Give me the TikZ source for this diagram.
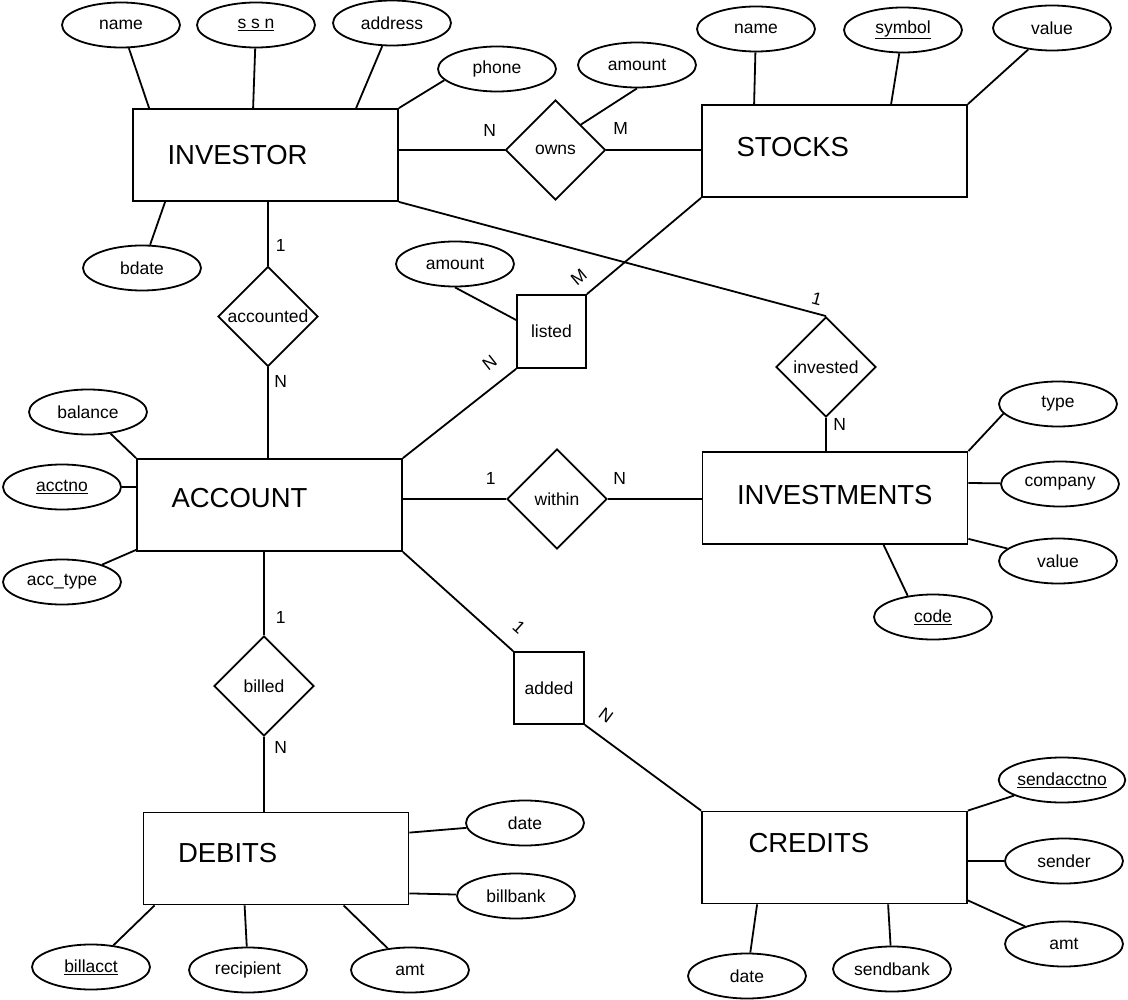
\documentclass[tikz,border=0pt]{standalone}
\usepackage{fontspec}
\setmainfont{Liberation Sans}
\usetikzlibrary{shapes.geometric}

\newcommand{\attrfont}{\fontsize{17.5}{20}\selectfont}
\newcommand{\entfont}{\fontsize{27.5}{32}\selectfont}
\newcommand{\liftby}[2]{\raisebox{#1}[\height][\depth]{#2}}

\begin{document}
\begin{tikzpicture}[x=1pt,y=-1pt,line width=1.8pt]
	\useasboundingbox (0,0) rectangle (1128,1000);

	% entities
	\begin{scope}[every node/.style={draw,rectangle,minimum height=92pt,text width=196pt,inner xsep=34.5pt,align=left,font=\entfont}]
		\node (inv) at (265.5,155) {INVESTOR};
		\node (stk) at (834.5,151) {\liftby{4pt}{STOCKS}};
		\node (acc) at (269.5,505) {\liftby{7pt}{ACCOUNT}};
		\node (ivt) at (835,498) {\liftby{3pt}{INVESTMENTS}};
		\node (deb) at (276,858.5) {\liftby{5.5pt}{DEBITS}};
		\node (cre) at (834.5,857.5) {\liftby{14.5pt}{\hspace*{12pt}CREDITS}};
	\end{scope}

	% relationships
	\begin{scope}[every node/.style={draw,diamond,minimum width=100pt,minimum height=100pt,inner sep=0pt,font=\attrfont}]
		\node (owns) at (555.5,150) {owns};
		\node (acctd) at (268,316.5) {accounted};
		\node (invd) at (826,367) {invested};
		\node (within) at (557,499) {within};
		\node (billed) at (264,686) {billed};
	\end{scope}

	\begin{scope}[every node/.style={draw,rectangle,inner sep=0pt,font=\attrfont}]
		\node[minimum width=69pt,minimum height=73pt] (listed) at (551.5,331.5) {listed};
		\node[minimum width=70pt,minimum height=72pt] (added) at (549,688) {added};
	\end{scope}

	% attributes
	\begin{scope}[every node/.style={draw,ellipse,minimum width=118pt,minimum height=45pt,inner sep=0pt,font=\attrfont}]
		\node (iname) at (121,25) {name};
		\node (issn) at (256,25) {\underline{s s n}};
		\node (iaddr) at (392,23) {address};
		\node (iphone) at (497,69) {phone};
		\node (ibdate) at (142,268) {bdate};
		\node (oamt) at (637,65) {amount};
		\node (sname) at (756,29) {name};
		\node (ssym) at (903,30) {\underline{symbol}};
		\node (sval) at (1052,28) {value};
		\node (lamt) at (455,264) {amount};
		\node (abal) at (88,412) {balance};
		\node (ano) at (62,487) {\underline{acctno}};
		\node (atype) at (62,582) {acc\_type};
		\node (vtype) at (1058,404) {type};
		\node (vcomp) at (1060,484) {company};
		\node (vval) at (1058,561) {value};
		\node (vcode) at (933,617) {\underline{code}};
		\node (ddate) at (525,823) {date};
		\node (dbank) at (516,896) {billbank};
		\node (dacct) at (91,967) {\underline{billacct}};
		\node (drec) at (248,970) {recipient};
		\node (damt) at (410,970) {amt};
		\node (csend) at (1062,780) {\underline{sendacctno}};
		\node (csndr) at (1064,861) {sender};
		\node (camt) at (1064,944) {amt};
		\node (cdate) at (747,976) {date};
		\node (cbank) at (892,969) {sendbank};
	\end{scope}

	% attribute links
	\path (iname) edge ([xshift=17pt]inv.north west);
	\path (issn) edge ([xshift=121pt]inv.north west);
	\path (iaddr) edge ([xshift=224pt]inv.north west);
	\path (iphone.192) edge (inv.north east);
	\path (ibdate) edge ([xshift=33pt]inv.south west);

	\path (sname) edge ([xshift=53pt]stk.north west);
	\path (ssym) edge ([xshift=190pt]stk.north west);
	\path (sval) edge (stk.north east);
	\path (oamt.south) edge (owns.north east);
	\path (lamt.south) edge ([yshift=11.5pt]listed.west);

	\path (abal) edge (acc.north west);
	\path (ano) edge ([yshift=18pt]acc.west);
	\path (atype) edge ([yshift=2pt]acc.south west);

	\path (vtype.190) edge (ivt.north east);
	\path (vcomp) edge ([yshift=15pt]ivt.east);
	\path (vval) edge ([yshift=6pt]ivt.south east);
	\path (vcode.140) edge ([xshift=182pt]ivt.south west);

	\path (ddate) edge ([yshift=-21pt]deb.north east);
	\path (dbank) edge ([yshift=12pt]deb.south east);
	\path (dacct) edge ([xshift=12pt]deb.south west);
	\path (drec) edge ([xshift=102pt]deb.south west);
	\path (damt) edge ([xshift=201pt]deb.south west);

	\path (csend) edge (cre.north east);
	\path (csndr) edge ([yshift=-3.5pt]cre.east);
	\path (camt) edge ([yshift=4pt]cre.south east);
	\path (cdate) edge ([xshift=56pt]cre.south west);
	\path (cbank) edge ([xshift=187pt]cre.south west);

	% relationship links
	\begin{scope}[every node/.style={font=\attrfont,inner sep=3pt}]
		\path (owns.west -| inv.east) edge node[pos=0.86,above=10pt] {N} (owns.west);
		\path (owns.east) edge node[pos=0.15,above=12pt] {M} (owns.east -| stk.west);

		\path (inv.south -| acctd.north) edge node[pos=0.68,right=4pt] {1} (acctd.north);
		\path (acctd.south) edge node[pos=0.16,right=2.5pt] {N} (acctd.south |- acc.north);

		\path (inv.south east) edge node[pos=0.97,sloped,above=4pt] {1} (invd.north);
		\path (invd.south) edge node[pos=0.2,right=3.5pt] {N} (invd.south |- ivt.north);

		\path (acc.north east) edge node[pos=0.88,sloped,above=11pt] {N} (listed.south west);
		\path (listed.north east) edge node[pos=0.03,sloped,above=8pt] {M} (stk.south west);

		\path (within.west -| acc.east) edge node[pos=0.85,above=11pt] {1} (within.west);
		\path (within.east) edge node[pos=0.125,above=11pt] {N} (within.east -| ivt.west);

		\path (acc.south -| billed.north) edge node[pos=0.79,right=8pt] {1} (billed.north);
		\path (billed.south) edge node[pos=0.14,right=6.5pt] {N} (billed.south |- deb.north);

		\path (acc.south east) edge node[pos=0.92,sloped,above=12pt] {1} (added.north west);
		\path (added.south east) edge node[pos=0.08,sloped,above=10pt] {N} (cre.north west);
	\end{scope}
\end{tikzpicture}
\end{document}
